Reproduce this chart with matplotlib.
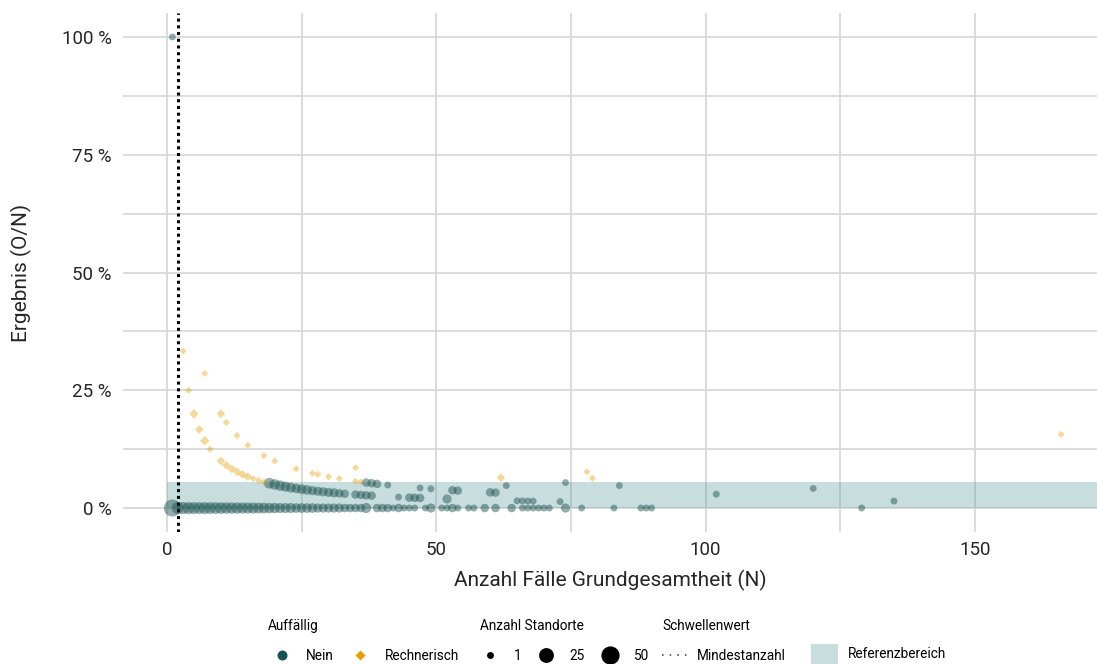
import matplotlib
matplotlib.use("Agg")
import matplotlib.pyplot as plt
from matplotlib.lines import Line2D
from matplotlib.patches import Patch
from matplotlib.ticker import FuncFormatter, MultipleLocator
import numpy as np

plt.rcParams['font.family'] = ['Roboto', 'DejaVu Sans']

# %%
# Daten: Grundgesamtheit N, Ereignisse O, Anzahl Standorte
# Auffällig = Nein, Ergebnis 0 %
null_n = [1, 2, 3, 4, 5, 6, 7, 8, 9, 10, 11, 12, 13, 14, 15, 16, 17, 18, 19, 20,
          21, 22, 23, 24, 25, 26, 27, 28, 29, 30, 31, 32, 33, 34, 35, 36, 37,
          39, 40, 41, 42, 43, 44, 45, 46, 48, 49, 51, 52, 53, 54, 56, 57, 59,
          61, 64, 66, 67, 68, 69, 70, 71, 74, 77, 83, 88, 89, 90, 129]
null_k = [40, 11, 12, 11, 11, 10, 11, 10, 10, 10, 9, 9, 9, 8, 8, 8, 7, 7, 6, 6,
          5, 5, 5, 4, 4, 4, 4, 3, 3, 3, 3, 3, 2, 2, 2, 2, 5,
          2, 2, 2, 1, 2, 1, 1, 1, 1, 3, 1, 1, 2, 1, 1, 1, 2,
          2, 2, 1, 1, 1, 1, 1, 1, 3, 1, 1, 1, 1, 1, 1]

# Auffällig = Nein, Ergebnis > 0 %
nein_n = [1, 19, 20, 21, 22, 23, 24, 25, 26, 27, 28, 29, 30, 31, 32, 33, 35, 36, 37, 38,
          37, 38, 39, 41, 43, 45, 46, 47, 47, 49, 52, 53, 54, 60, 61, 63,
          65, 66, 67, 68, 73, 74, 84, 102, 120, 135]
nein_o = [1, 1, 1, 1, 1, 1, 1, 1, 1, 1, 1, 1, 1, 1, 1, 1, 1, 1, 1, 1,
          2, 2, 2, 2, 1, 1, 1, 1, 2, 2, 1, 2, 2, 2, 2, 3,
          1, 1, 1, 1, 1, 4, 4, 3, 5, 2]
nein_k = [1, 7, 6, 6, 5, 5, 4, 4, 4, 3, 3, 3, 3, 3, 2, 2, 2, 2, 2, 2,
          2, 2, 2, 1, 1, 2, 2, 2, 1, 1, 3, 2, 2, 2, 2, 1,
          1, 1, 1, 1, 1, 1, 1, 1, 1, 1]

# Auffällig = Rechnerisch
rech_n = [3, 4, 5, 6, 7, 8, 7, 10, 11, 13, 15, 10, 11, 12, 13, 14, 15, 16, 17, 18,
          18, 20, 24, 27, 28, 30, 32, 35, 35, 36, 62, 78, 79, 166]
rech_o = [1, 1, 1, 1, 1, 1, 2, 2, 2, 2, 2, 1, 1, 1, 1, 1, 1, 1, 1, 1,
          2, 2, 2, 2, 2, 2, 2, 3, 2, 2, 4, 6, 5, 26]
rech_k = [1, 1, 3, 2, 3, 1, 1, 2, 1, 1, 1, 2, 2, 2, 2, 2, 2, 1, 1, 1,
          1, 1, 1, 1, 1, 1, 1, 1, 1, 1, 2, 1, 1, 1]

mindestanzahl = 2
ref_unten = 0
ref_oben = 5.5
legende_k = [1, 25, 50]

teal = '#1A524F'
orange = '#E69F00'
band = '#4B9194'


def punkt_pt(k):
    # Durchmesser in Punkten (Flaeche ~ Anzahl Standorte)
    px = 6.9 + 1.62 * np.sqrt(np.asarray(k, dtype=float) - 1)
    return px * 0.72


# %%
n_nein = np.array(null_n + nein_n)
o_nein = np.array([0] * len(null_n) + nein_o)
k_nein = np.array(null_k + nein_k)
erg_nein = o_nein / n_nein * 100
erg_rech = np.array(rech_o) / np.array(rech_n) * 100

W, H = 1097, 664
fig = plt.figure(figsize=(W / 100, H / 100), dpi=100)
ax = fig.add_axes([123 / W, (H - 531.6) / H, (W - 123) / W, (531.6 - 13.4) / H])

ax.set_xlim(-8.17, 172.7)
ax.set_ylim(-5, 105)

ax.xaxis.set_major_locator(MultipleLocator(50))
ax.xaxis.set_minor_locator(MultipleLocator(25))
ax.yaxis.set_major_locator(MultipleLocator(25))
ax.yaxis.set_minor_locator(MultipleLocator(12.5))
ax.yaxis.set_major_formatter(FuncFormatter(lambda v, p: f"{v:.0f} %"))
ax.grid(True, which='both', color='#d9d9d9', lw=1.3, zorder=0)
ax.set_axisbelow(True)
for s in ax.spines.values():
    s.set_visible(False)
ax.tick_params(which='both', length=0, labelsize=13.5, labelcolor='#262626')
ax.tick_params(axis='y', pad=8)
ax.tick_params(axis='x', pad=7)

# Referenzbereich
ax.fill_between([0, ax.get_xlim()[1]], ref_unten, ref_oben, color=band, alpha=0.3,
                lw=0, zorder=1)

ax.scatter(n_nein, erg_nein, s=punkt_pt(k_nein) ** 2, color=teal, alpha=0.47,
           lw=0, marker='o', zorder=2)
ax.scatter(rech_n, erg_rech, s=(punkt_pt(rech_k) * 0.72) ** 2, color=orange,
           alpha=0.4, lw=0, marker='D', zorder=2)

ax.axvline(mindestanzahl, color='black', lw=2.2, linestyle=(0, (1, 1.2)), zorder=3)

ax.set_xlabel('Anzahl Fälle Grundgesamtheit (N)', fontsize=15, color='#262626')
ax.set_ylabel('Ergebnis (O/N)', fontsize=15, color='#262626')
ax.xaxis.set_label_coords(0.5, -0.074)
ax.yaxis.set_label_coords(-0.0934, 0.5)

# %%
# Legenden
fs = 9.8
opts = dict(loc='upper left', frameon=False, borderpad=0, borderaxespad=0,
            fontsize=fs, title_fontsize=fs, alignment='left', labelspacing=1.15)

h_auff = [Line2D([0], [0], marker='o', color='none', markerfacecolor=teal,
                 markeredgecolor='none', markersize=7.2),
          Line2D([0], [0], marker='D', color='none', markerfacecolor=orange,
                 markeredgecolor='none', markersize=5)]
fig.legend(h_auff, ['Nein', 'Rechnerisch'], title='Auffällig', ncol=2,
           bbox_to_anchor=(268 / W, 1 - 619 / H), handlelength=2.0,
           handletextpad=0.8, columnspacing=0.93, **opts)

h_anz = [Line2D([0], [0], marker='o', color='none', markerfacecolor='black',
                markeredgecolor='none', markersize=punkt_pt(k)) for k in legende_k]
fig.legend(h_anz, [str(k) for k in legende_k], title='Anzahl Standorte', ncol=3,
           bbox_to_anchor=(480 / W, 1 - 619 / H), handlelength=1.53,
           handletextpad=0.95, columnspacing=1.08, **opts)

h_schw = [Line2D([0], [0], color='#333333', lw=1.1, linestyle=(0, (1, 4)))]
fig.legend(h_schw, ['Mindestanzahl'], title='Schwellenwert',
           bbox_to_anchor=(662 / W, 1 - 619 / H), handlelength=2.2,
           handletextpad=0.37, **opts)

h_ref = [Patch(facecolor=band, alpha=0.3, edgecolor='none')]
fig.legend(h_ref, ['Referenzbereich'], title=' ',
           bbox_to_anchor=(811 / W, 1 - 614 / H), handlelength=2.0,
           handleheight=2.0, handletextpad=0.7, **opts)

fig.savefig('out.png', dpi=100)
